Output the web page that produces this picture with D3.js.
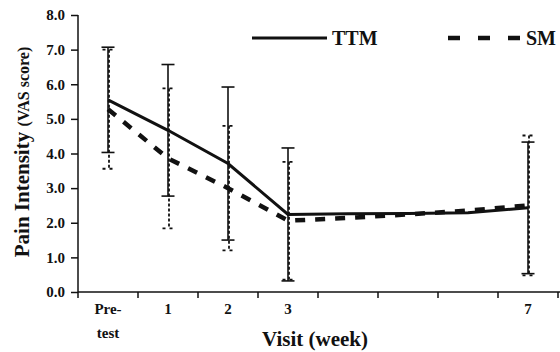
<!DOCTYPE html>
<html><head><meta charset="utf-8">
<script src="https://cdn.jsdelivr.net/npm/d3@7"></script>
<style>
html,body{margin:0;padding:0;background:#fff;}
text{font-family:"Liberation Serif","Times New Roman",serif;font-weight:bold;fill:#111;}
</style></head>
<body><svg id="c" width="560" height="352"></svg>
<script>
const categories = ["Pre-test","1","2","3","4","5","6","7"];
const tickLabels = [["Pre-","test"],["1"],["2"],["3"],[""],[""],[""],["7"]];
const yTicks = [0,1,2,3,4,5,6,7,8];
const ttmMean = [5.55, 4.67, 3.71, 2.24, 2.26, 2.27, 2.29, 2.43];
const ttmSD   = [1.52, 1.90, 2.21, 1.92, null, null, null, 1.90];
const smMean  = [5.28, 3.86, 3.00, 2.06, 2.14, 2.24, 2.35, 2.50];
const smSD    = [1.72, 2.02, 1.80, 1.70, null, null, null, 2.02];

const svg = d3.select("#c");
const x = d3.scaleBand().domain(categories).range([78, 558]).padding(0);
const y = d3.scaleLinear().domain([0, 8]).range([292, 15]);
const cx = c => x(c) + x.bandwidth()/2;

// axes
const yAxis = svg.append("g").attr("transform","translate(78,0)")
  .call(d3.axisLeft(y).tickValues(yTicks).tickFormat(d3.format(".1f")).tickSize(7).tickPadding(6));
yAxis.select(".domain").attr("stroke","#111").attr("stroke-width",1.5).attr("d","M0,15V292");
yAxis.selectAll(".tick line").attr("stroke","#111").attr("stroke-width",1.5);
yAxis.selectAll(".tick text").attr("font-size",15).attr("font-family","Liberation Serif").attr("font-weight","bold").attr("fill","#111");

const xg = svg.append("g");
xg.append("line").attr("x1",78).attr("x2",560).attr("y1",292).attr("y2",292).attr("stroke","#111").attr("stroke-width",1.5);
const bounds = categories.map(c => x(c)).concat([x.range()[1]]);
xg.selectAll("line.tk").data(bounds).enter().append("line")
  .attr("x1",d=>d).attr("x2",d=>d).attr("y1",292).attr("y2",298).attr("stroke","#111").attr("stroke-width",1.5);
categories.forEach((c,i)=>{
  const t = xg.append("text").attr("text-anchor","middle").attr("font-size",15).attr("x",cx(c)).attr("y",314);
  tickLabels[i].forEach((s,j)=>{
    t.append("tspan").attr("x",cx(c)).attr("dy", j===0?0:24).text(s);
  });
});

// axis titles
svg.append("text").attr("x",315).attr("y",346).attr("text-anchor","middle").attr("font-size",21).text("Visit (week)");
const yt = svg.append("text").attr("transform","translate(29,152) rotate(-90)").attr("text-anchor","middle").attr("font-size",21);
yt.append("tspan").text("Pain Intensity ");
yt.append("tspan").attr("font-size",16).text("(VAS score)");

// SM error bars (dotted)
const capW = 6.5;
categories.forEach((c,i)=>{
  if (smSD[i]==null) return;
  const xx = cx(c)+1, hi = y(smMean[i]+smSD[i]), lo = y(smMean[i]-smSD[i]);
  svg.append("line").attr("x1",xx).attr("x2",xx).attr("y1",hi).attr("y2",lo)
    .attr("stroke","#111").attr("stroke-width",1.8).attr("stroke-dasharray","3,2");
  [hi,lo].forEach(v=>svg.append("line").attr("x1",xx-capW).attr("x2",xx+capW).attr("y1",v).attr("y2",v)
    .attr("stroke","#111").attr("stroke-width",1.8).attr("stroke-dasharray","3,4"));
});
// TTM error bars (solid)
categories.forEach((c,i)=>{
  if (ttmSD[i]==null) return;
  const xx = cx(c), hi = y(ttmMean[i]+ttmSD[i]), lo = y(ttmMean[i]-ttmSD[i]);
  svg.append("line").attr("x1",xx).attr("x2",xx).attr("y1",hi).attr("y2",lo).attr("stroke","#111").attr("stroke-width",1.6);
  [hi,lo].forEach(v=>svg.append("line").attr("x1",xx-capW).attr("x2",xx+capW).attr("y1",v).attr("y2",v)
    .attr("stroke","#111").attr("stroke-width",1.6));
});

// lines
const line = arr => d3.line().x((d,i)=>cx(categories[i])).y(d=>y(d))(arr);
svg.append("path").attr("d",line(smMean)).attr("fill","none").attr("stroke","#111")
  .attr("stroke-width",4.5).attr("stroke-dasharray","10,10");
svg.append("path").attr("d",line(ttmMean)).attr("fill","none").attr("stroke","#111").attr("stroke-width",3);

// legend
svg.append("line").attr("x1",252).attr("x2",327).attr("y1",38).attr("y2",38).attr("stroke","#111").attr("stroke-width",3);
svg.append("text").attr("x",332).attr("y",45).attr("font-size",20).text("TTM");
svg.append("line").attr("x1",448).attr("x2",520).attr("y1",38).attr("y2",38).attr("stroke","#111").attr("stroke-width",4.5).attr("stroke-dasharray","12,18");
svg.append("text").attr("x",526).attr("y",45).attr("font-size",20).text("SM");
</script></body></html>
